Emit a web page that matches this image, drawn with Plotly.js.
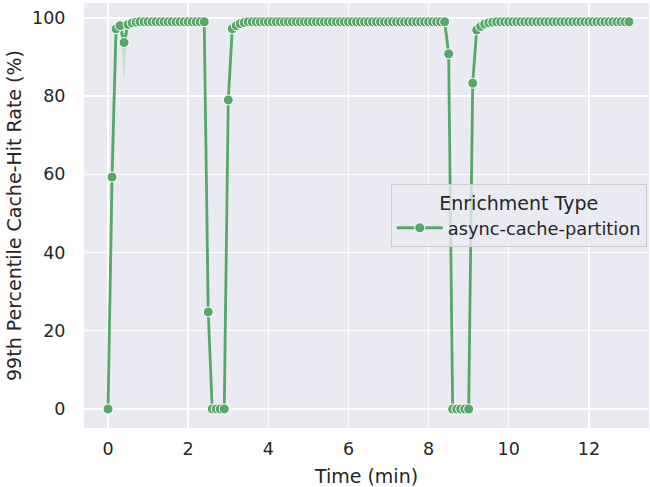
<!DOCTYPE html>
<html>
<head>
<meta charset="utf-8">
<script src="https://cdn.plot.ly/plotly-3.0.1.min.js"></script>
<style>html,body{margin:0;padding:0;background:#fff;}#chart{width:650px;height:487px;}</style>
</head>
<body>
<div id="chart"></div>
<script>
const seriesName = "async-cache-partition";
const timeMin = [
  0,0.1,0.2,0.3,0.4,0.5,0.6,0.7,0.8,0.9,
  1,1.1,1.2,1.3,1.4,1.5,1.6,1.7,1.8,1.9,
  2,2.1,2.2,2.3,2.4,2.5,2.6,2.7,2.8,2.9,
  3,3.1,3.2,3.3,3.4,3.5,3.6,3.7,3.8,3.9,
  4,4.1,4.2,4.3,4.4,4.5,4.6,4.7,4.8,4.9,
  5,5.1,5.2,5.3,5.4,5.5,5.6,5.7,5.8,5.9,
  6,6.1,6.2,6.3,6.4,6.5,6.6,6.7,6.8,6.9,
  7,7.1,7.2,7.3,7.4,7.5,7.6,7.7,7.8,7.9,
  8,8.1,8.2,8.3,8.4,8.5,8.6,8.7,8.8,8.9,
  9,9.1,9.2,9.3,9.4,9.5,9.6,9.7,9.8,9.9,
  10,10.1,10.2,10.3,10.4,10.5,10.6,10.7,10.8,10.9,
  11,11.1,11.2,11.3,11.4,11.5,11.6,11.7,11.8,11.9,
  12,12.1,12.2,12.3,12.4,12.5,12.6,12.7,12.8,12.9,
  13
];
const hitRate = [
  0,59.3,97.2,98.0,93.7,98.3,98.7,98.9,99,99,
  99,99,99,99,99,99,99,99,99,99,
  99,99,99,99,99,24.8,0,0,0,0,
  79.0,97.2,98.0,98.5,98.8,99,99,99,99,99,
  99,99,99,99,99,99,99,99,99,99,
  99,99,99,99,99,99,99,99,99,99,
  99,99,99,99,99,99,99,99,99,99,
  99,99,99,99,99,99,99,99,99,99,
  99,99,99,99,99,90.8,0,0,0,0,
  0,83.3,96.9,97.8,98.4,98.7,98.9,99,99,99,
  99,99,99,99,99,99,99,99,99,99,
  99,99,99,99,99,99,99,99,99,99,
  99,99,99,99,99,99,99,99,99,99,
  99
];
const ciLower = [
  0,40,94,97,84,97,98.2,98.7,99,99,
  99,99,99,99,99,99,99,99,99,99,
  99,99,99,99,99,18,0,0,0,0,
  74,95.5,97.3,98.1,98.6,99,99,99,99,99,
  99,99,99,99,99,99,99,99,99,99,
  99,99,99,99,99,99,99,99,99,99,
  99,99,99,99,99,99,99,99,99,99,
  99,99,99,99,99,99,99,99,99,99,
  99,99,99,99,99,86,0,0,0,0,
  0,79,95,97,98,98.5,98.8,99,99,99,
  99,99,99,99,99,99,99,99,99,99,
  99,99,99,99,99,99,99,99,99,99,
  99,99,99,99,99,99,99,99,99,99,
  99
];
const ciUpper = [
  0,78,99,99,99,99,99.1,99.1,99,99,
  99,99,99,99,99,99,99,99,99,99,
  99,99,99,99,99,32,0,0,0,0,
  84,98.5,98.7,98.9,99,99,99,99,99,99,
  99,99,99,99,99,99,99,99,99,99,
  99,99,99,99,99,99,99,99,99,99,
  99,99,99,99,99,99,99,99,99,99,
  99,99,99,99,99,99,99,99,99,99,
  99,99,99,99,99,95,0,0,0,0,
  0,88,98.3,98.5,98.8,98.9,99,99,99,99,
  99,99,99,99,99,99,99,99,99,99,
  99,99,99,99,99,99,99,99,99,99,
  99,99,99,99,99,99,99,99,99,99,
  99
];
const xTicks = [0,2,4,6,8,10,12];
const yTicks = [0,20,40,60,80,100];

const green = "#55a868";
const textColor = "#262626";
const font = "DejaVu Sans, sans-serif";

const traces = [
  {x: timeMin, y: ciUpper, type: "scatter", mode: "lines", line: {width: 0, color: green},
   showlegend: false, hoverinfo: "skip"},
  {x: timeMin, y: ciLower, type: "scatter", mode: "lines", line: {width: 0, color: green},
   fill: "tonexty", fillcolor: "rgba(85,168,104,0.2)", showlegend: false, hoverinfo: "skip"},
  {x: timeMin, y: hitRate, type: "scatter", mode: "lines+markers", name: seriesName,
   line: {color: green, width: 2.8},
   marker: {color: green, size: 10, line: {color: "#ffffff", width: 1}}}
];

const layout = {
  width: 650, height: 487,
  margin: {l: 84, r: 1, t: 3, b: 59},
  paper_bgcolor: "#ffffff",
  plot_bgcolor: "#eaeaf2",
  font: {family: font, color: textColor, size: 17.5},
  xaxis: {
    range: [-0.6, 13.5], tickvals: xTicks, ticktext: xTicks.map(String),
    showgrid: true, gridcolor: "#ffffff", gridwidth: 1.4, zeroline: false, showline: false,
    ticks: "outside", ticklen: 5, tickcolor: "rgba(0,0,0,0)",
    tickfont: {size: 17.5, color: textColor},
    title: {text: "Time (min)", font: {size: 19, color: textColor}, standoff: 13}
  },
  yaxis: {
    range: [-4.86, 103.8], tickvals: yTicks, ticktext: yTicks.map(String),
    showgrid: true, gridcolor: "#ffffff", gridwidth: 1.4, zeroline: false, showline: false,
    ticks: "outside", ticklen: 14, tickcolor: "rgba(0,0,0,0)",
    tickfont: {size: 17.5, color: textColor},
    title: {text: "99th Percentile Cache-Hit Rate (%)", font: {size: 19, color: textColor}, standoff: 5}
  },
  legend: {
    x: 0.996, xanchor: "right", y: 0.5, yanchor: "middle",
    bgcolor: "rgba(234,234,242,0.8)", bordercolor: "#cccccc", borderwidth: 1,
    font: {size: 17.8, color: textColor},
    title: {text: "Enrichment Type", side: "top center", font: {size: 19, color: textColor}},
    itemwidth: 46
  },
  showlegend: true
};

Plotly.newPlot("chart", traces, layout, {displayModeBar: false, staticPlot: true});
</script>
</body>
</html>
